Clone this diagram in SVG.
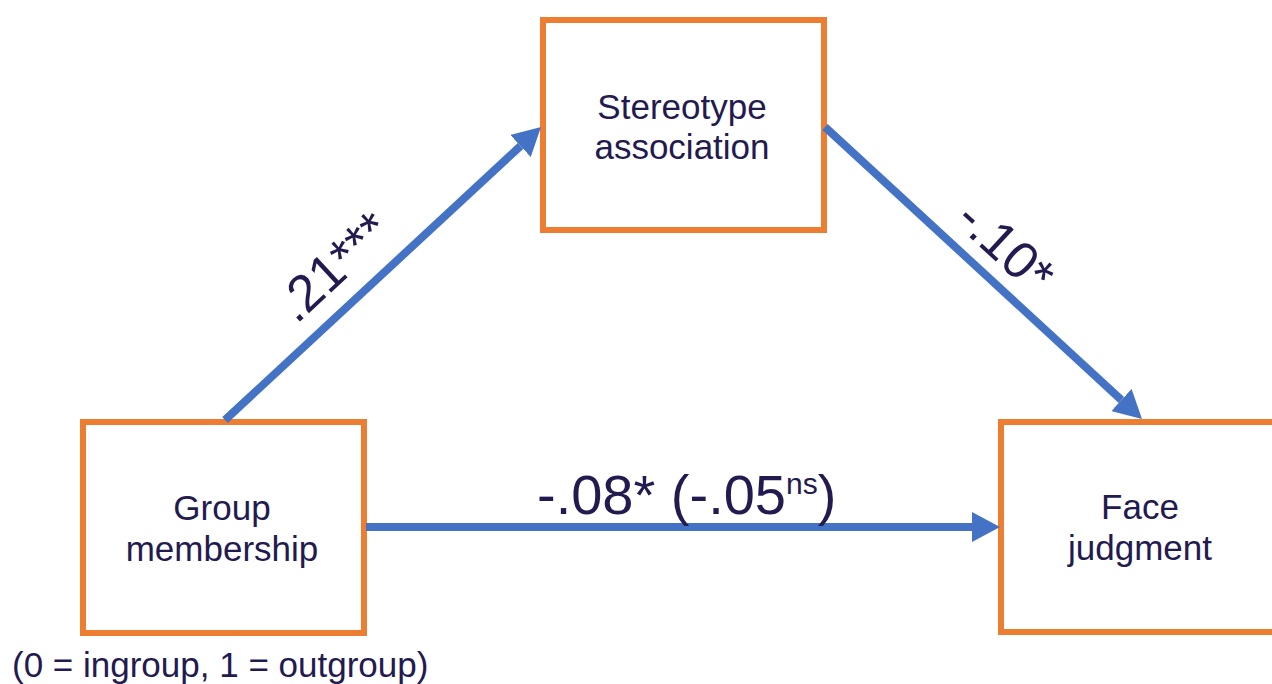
<svg xmlns="http://www.w3.org/2000/svg" width="1272" height="684" viewBox="0 0 1272 684">
<style>
.box{fill:#ffffff;stroke:#ED7D31;stroke-width:6}
.lbl{font-family:"Liberation Sans",Arial,sans-serif;font-size:35px;fill:#231a4f;text-anchor:middle}
.coef{font-family:"Liberation Sans",Arial,sans-serif;font-size:52px;fill:#231a4f}
.conn{stroke:#4472C4;stroke-width:8;fill:none}
</style>
<defs>
<marker id="ah" markerUnits="userSpaceOnUse" viewBox="0 0 28 30" refX="0" refY="15" markerWidth="28" markerHeight="30" orient="auto">
<path d="M0,0 L28,15 L0,30 z" fill="#4472C4"/>
</marker>
</defs>
<rect width="1272" height="684" fill="#ffffff"/>
<g id="stereotype">
<rect class="box" x="543" y="20" width="281" height="210"/>
<text class="lbl" x="682" y="119">Stereotype</text>
<text class="lbl" x="682" y="159">association</text>
</g>
<g id="group">
<rect class="box" x="83" y="422" width="281" height="211"/>
<text class="lbl" x="222" y="520">Group</text>
<text class="lbl" x="222" y="561">membership</text>
<text x="12" y="677" font-family="Liberation Sans, Arial, sans-serif" font-size="35" fill="#231a4f">(0 = ingroup, 1 = outgroup)</text>
</g>
<g id="face">
<rect class="box" x="1001" y="422" width="290" height="210"/>
<text class="lbl" x="1140" y="519">Face</text>
<text class="lbl" x="1140" y="560">judgment</text>
</g>
<g id="connectors">
<line class="conn" x1="225" y1="420" x2="520.5" y2="146" marker-end="url(#ah)"/>
<line class="conn" x1="825" y1="127" x2="1121.4" y2="400" marker-end="url(#ah)"/>
<line class="conn" x1="366" y1="527" x2="972" y2="527" marker-end="url(#ah)"/>
<text class="coef" transform="translate(296.5,324.8) rotate(-42.84)">.21***</text>
<text class="coef" transform="translate(953.2,222.3) rotate(42.65)">-.10*</text>
<text class="coef" x="537" y="514" style="font-size:56px">-.08* (-.05<tspan style="font-size:30px" dy="-20">ns</tspan><tspan dy="20">)</tspan></text>
</g>
</svg>
